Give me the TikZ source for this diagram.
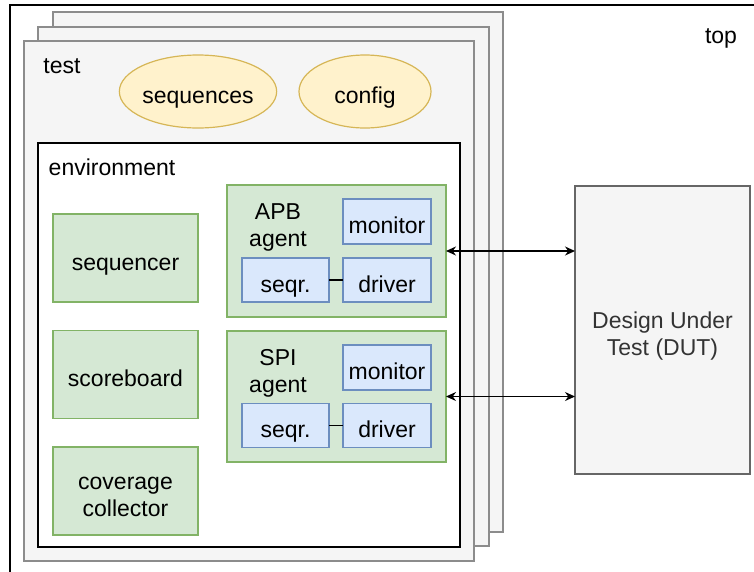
\documentclass[tikz,border=0pt]{standalone}
\usepackage{fontspec}
\setmainfont{Liberation Sans}
\usetikzlibrary{shapes.geometric,arrows.meta}
\definecolor{pagefill}{HTML}{F5F5F5}
\definecolor{pageline}{HTML}{8C8C8C}
\definecolor{gfill}{HTML}{D5E8D4}
\definecolor{gline}{HTML}{82B366}
\definecolor{bfill}{HTML}{DAE8FC}
\definecolor{bline}{HTML}{6C8EBF}
\definecolor{yfill}{HTML}{FFF2CC}
\definecolor{yline}{HTML}{D6B656}
\definecolor{dutline}{HTML}{666666}
\definecolor{duttext}{HTML}{333333}
\tikzset{
  base/.style={inner sep=0pt, outer sep=0pt, font=\fontsize{23}{27}\selectfont, align=center, text height=24pt, text depth=0pt},
  twoline/.style={text height=51pt, text depth=0pt},
  pagebox/.style={base, rectangle, draw=pageline, fill=pagefill, line width=1.3pt},
  envbox/.style={base, rectangle, draw=black, fill=white, line width=1.5pt},
  greenbox/.style={base, rectangle, draw=gline, fill=gfill, line width=1.2pt},
  bluebox/.style={base, rectangle, draw=bline, fill=bfill, line width=1.2pt},
  oval/.style={base, ellipse, draw=yline, fill=yfill, line width=1.2pt},
  dutbox/.style={base, rectangle, draw=dutline, fill=pagefill, line width=1.4pt, text=duttext},
  lbl/.style={inner sep=0pt, outer sep=0pt, font=\fontsize{23}{27}\selectfont, anchor=base},
  link/.style={line width=1.3pt, black},
  biarrow/.style={line width=1.3pt, black, {Stealth[length=10pt,width=9pt]}-{Stealth[length=10pt,width=9pt]}}
}
\begin{document}
\begin{tikzpicture}[x=1pt,y=-1pt]
\useasboundingbox (0,0) rectangle (754,571);
\clip (0,0) rectangle (754,571);
% top frame
\draw[line width=1.5pt, black] (10,5) rectangle (780,600);
\node[lbl] (toplbl) at (721,43) {top};
% stacked test pages
\node[pagebox, minimum width=450pt, minimum height=520pt] (page3) at (278,272) {};
\node[pagebox, minimum width=451pt, minimum height=519pt] (page2) at (263.5,286.5) {};
\node[pagebox, minimum width=450pt, minimum height=520pt] (page1) at (249,301) {};
\node[lbl] (testlbl) at (62,73) {test};
\node[oval, minimum width=132pt, minimum height=73pt] (seqs) at (198,91.5) {sequences};
\node[oval, minimum width=132pt, minimum height=73pt] (config) at (365,91.5) {config};
% environment
\node[envbox, minimum width=422pt, minimum height=404pt] (env) at (249,345) {};
\node[lbl] (envlbl) at (112,175) {environment};
\node[greenbox, minimum width=145pt, minimum height=88pt] (sqr) at (125.5,258) {sequencer};
\node[greenbox, minimum width=145pt, minimum height=88pt] (scb) at (125.5,374.5) {scoreboard};
\node[greenbox, twoline, minimum width=145pt, minimum height=88pt] (cov) at (125.5,491) {coverage\\collector};
% APB agent
\node[greenbox, minimum width=219pt, minimum height=132pt] (apb) at (336.5,251) {};
\node[base, twoline] (apblbl) at (278,220.75) {APB\\agent};
\node[bluebox, minimum width=88pt, minimum height=45pt] (apbmon) at (387,221.5) {monitor};
\node[bluebox, minimum width=87pt, minimum height=44pt] (apbseq) at (285.5,280) {seqr.};
\node[bluebox, minimum width=88pt, minimum height=44pt] (apbdrv) at (387,280) {driver};
\draw[link] (apbseq) -- (apbdrv);
% SPI agent
\node[greenbox, minimum width=219pt, minimum height=131pt] (spi) at (336.5,396.5) {};
\node[base, twoline] (spilbl) at (278,366.75) {SPI\\agent};
\node[bluebox, minimum width=88pt, minimum height=45pt] (spimon) at (387,367.5) {monitor};
\node[bluebox, minimum width=87pt, minimum height=44pt] (spiseq) at (285.5,425.5) {seqr.};
\node[bluebox, minimum width=88pt, minimum height=44pt] (spidrv) at (387,425.5) {driver};
\draw[link] (spiseq) -- (spidrv);
% DUT
\node[dutbox, twoline, minimum width=175pt, minimum height=288pt] (dut) at (662.5,330) {Design Under\\Test (DUT)};
\draw[biarrow] (apb.east) -- (apb.east -| dut.west);
\draw[biarrow] (spi.east) -- (spi.east -| dut.west);
\end{tikzpicture}
\end{document}
